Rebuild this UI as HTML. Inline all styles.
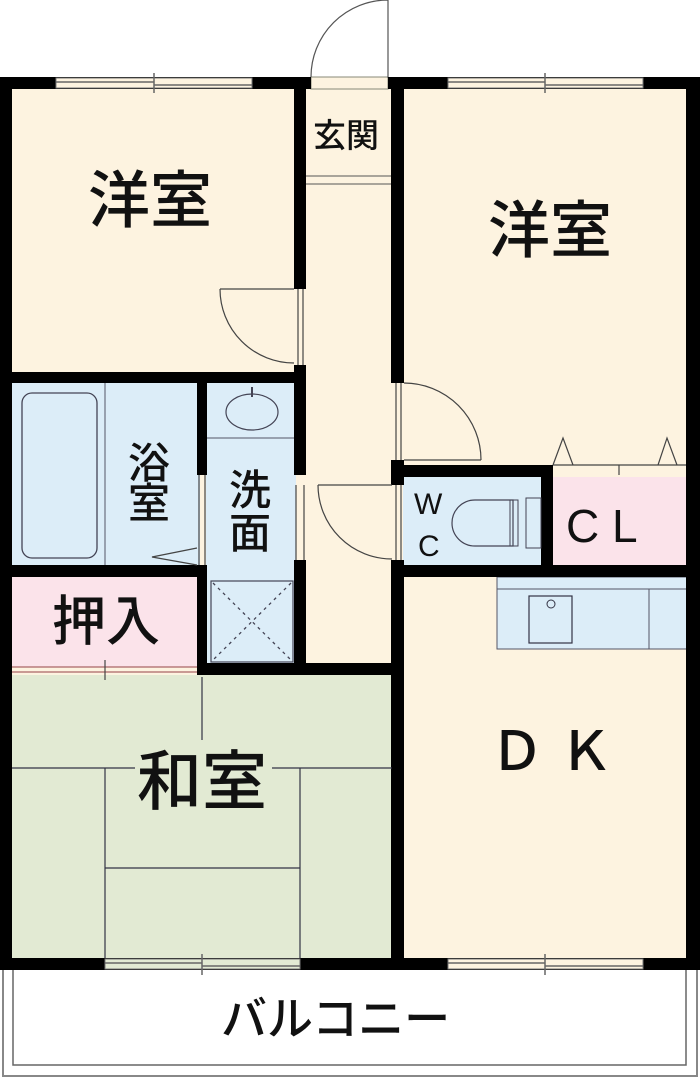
<!DOCTYPE html>
<html><head><meta charset="utf-8"><style>
html,body{margin:0;padding:0;background:#fff;}
svg{display:block;}
text{font-family:"Liberation Sans","Noto Sans CJK JP",sans-serif;fill:#111;font-weight:500;}
</style></head><body>
<svg width="700" height="1079" viewBox="0 0 700 1079" xmlns="http://www.w3.org/2000/svg">
<rect x="3" y="968" width="694" height="108" fill="#fff" stroke="#888" stroke-width="2"/>
<rect x="13" y="968" width="673" height="97" fill="#fff" stroke="#666" stroke-width="1.5"/>
<rect x="12" y="88" width="676" height="872" fill="#fdf3e0"/>
<rect x="12" y="383" width="188" height="184" fill="#dcedf8"/>
<rect x="206" y="383" width="90" height="282" fill="#dcedf8"/>
<rect x="12" y="577" width="188" height="90" fill="#fbe3ea"/>
<rect x="12" y="675" width="382" height="285" fill="#e2ead3"/>
<rect x="403" y="477" width="148" height="90" fill="#dcedf8"/>
<rect x="551" y="477" width="137" height="90" fill="#fbe3ea"/>
<rect x="497" y="577" width="191" height="72" fill="#dcedf8" stroke="#556" stroke-width="1"/>
<line x1="497" y1="589" x2="688" y2="589" stroke="#556" stroke-width="1"/>
<line x1="649" y1="589" x2="649" y2="649" stroke="#556" stroke-width="1"/>
<rect x="529" y="596" width="43" height="47" fill="none" stroke="#334" stroke-width="1.2"/>
<circle cx="551" cy="604" r="4" fill="none" stroke="#334" stroke-width="1"/>
<line x1="306" y1="176" x2="392" y2="176" stroke="#555" stroke-width="1"/>
<line x1="306" y1="184" x2="392" y2="184" stroke="#555" stroke-width="1"/>
<rect x="311" y="77" width="77" height="12" fill="#fdf3e0" stroke="#887" stroke-width="1"/>
<path d="M388 78 L388 0 A77 77 0 0 0 311 77" fill="none" stroke="#555" stroke-width="1.2"/>
<g fill="#000">
<rect x="0" y="77" width="311" height="12"/>
<rect x="388" y="77" width="312" height="12"/>
<rect x="0" y="77" width="12" height="893"/>
<rect x="686" y="77" width="14" height="893"/>
<rect x="0" y="958" width="700" height="12"/>
<rect x="294" y="77" width="12" height="212"/>
<rect x="294" y="365" width="12" height="110"/>
<rect x="294" y="560" width="12" height="110"/>
<rect x="391" y="77" width="13" height="306"/>
<rect x="391" y="460" width="13" height="25"/>
<rect x="391" y="560" width="13" height="410"/>
<rect x="0" y="372" width="306" height="11"/>
<rect x="197" y="383" width="10" height="92"/>
<rect x="0" y="565" width="207" height="12"/>
<rect x="197" y="565" width="10" height="110"/>
<rect x="197" y="663" width="207" height="12"/>
<rect x="391" y="465" width="162" height="12"/>
<rect x="541" y="465" width="12" height="112"/>
<rect x="391" y="565" width="309" height="12"/>
</g>
<g fill="#fdf3e0" stroke="#777" stroke-width="1">
<rect x="56" y="78" width="196" height="10"/>
<rect x="448" y="78" width="195" height="10"/>
<rect x="105" y="959" width="195" height="10" fill="#e2ead3"/>
<rect x="448" y="959" width="195" height="10"/>
</g>
<g stroke="#666" stroke-width="1.5">
<line x1="56" y1="82" x2="154" y2="82"/><line x1="154" y1="85" x2="252" y2="85"/><line x1="154" y1="73" x2="154" y2="93"/>
<line x1="448" y1="82" x2="545" y2="82"/><line x1="545" y1="85" x2="643" y2="85"/><line x1="545" y1="73" x2="545" y2="93"/>
<line x1="105" y1="963" x2="202" y2="963"/><line x1="202" y1="966" x2="300" y2="966"/><line x1="202" y1="954" x2="202" y2="975"/>
<line x1="448" y1="963" x2="545" y2="963"/><line x1="545" y1="966" x2="643" y2="966"/><line x1="545" y1="954" x2="545" y2="975"/>
</g>
<g fill="none" stroke="#444" stroke-width="1.2">
<line x1="220" y1="289" x2="294" y2="289"/><path d="M220 289 A74 74 0 0 0 294 363"/>
<line x1="298" y1="289" x2="298" y2="365"/><line x1="303" y1="289" x2="303" y2="365"/>
<line x1="404" y1="460" x2="481" y2="460"/><path d="M404 383 A77 77 0 0 1 481 460"/>
<line x1="396" y1="383" x2="396" y2="460"/><line x1="401" y1="383" x2="401" y2="460"/>
<line x1="318" y1="485" x2="392" y2="485"/><path d="M318 485 A74 74 0 0 0 392 559"/>
<line x1="296" y1="485" x2="296" y2="560"/><line x1="304" y1="485" x2="304" y2="560"/>
<line x1="396" y1="485" x2="396" y2="560"/><line x1="401" y1="485" x2="401" y2="560"/>
<line x1="199" y1="475" x2="199" y2="565"/><line x1="205" y1="475" x2="205" y2="565"/>
<path d="M197 548 L152 557 L197 565"/>
<path d="M553 465 L563 438 L573 465 M658 465 L667 438 L677 465"/>
<line x1="553" y1="465" x2="686" y2="465"/><line x1="619" y1="465" x2="619" y2="475"/>
<line x1="12" y1="667" x2="197" y2="667" stroke="#a66"/><line x1="12" y1="672" x2="197" y2="672" stroke="#a66"/>
<line x1="105" y1="660" x2="105" y2="680"/>
</g>
<rect x="22" y="393" width="75" height="165" rx="10" fill="none" stroke="#445" stroke-width="1.3"/>
<line x1="105" y1="383" x2="105" y2="565" stroke="#556" stroke-width="1"/>
<line x1="207" y1="438" x2="294" y2="438" stroke="#556" stroke-width="1"/>
<ellipse cx="252" cy="412" rx="26" ry="18" fill="none" stroke="#445" stroke-width="1.2"/>
<line x1="252" y1="387" x2="252" y2="397" stroke="#445" stroke-width="2"/>
<rect x="211" y="581" width="82" height="81" fill="none" stroke="#445" stroke-width="1.2"/>
<path d="M213 583 L291 660 M291 583 L213 660" stroke="#445" stroke-width="1.3" stroke-dasharray="3,4"/>
<path d="M513 500 L475 500 A18 18 0 0 0 475 546 L513 546 Z" fill="none" stroke="#445" stroke-width="1.2"/>
<rect x="510" y="500" width="8" height="46" fill="none" stroke="#445" stroke-width="1"/>
<rect x="526" y="498" width="15" height="50" fill="none" stroke="#445" stroke-width="1"/>
<g stroke="#334" stroke-width="1.2">
<line x1="202" y1="677" x2="202" y2="740"/>
<line x1="12" y1="768" x2="135" y2="768"/><line x1="272" y1="768" x2="392" y2="768"/>
<line x1="105" y1="768" x2="105" y2="958"/><line x1="300" y1="768" x2="300" y2="958"/>
<line x1="105" y1="868" x2="300" y2="868"/>
</g>
<text x="88" y="222" font-size="62">洋室</text>
<text x="488" y="252" font-size="62">洋室</text>
<text x="313" y="147" font-size="33">玄関</text>
<text x="128" y="478" font-size="42">浴</text>
<text x="128" y="518" font-size="42">室</text>
<text x="229" y="505" font-size="42">洗</text>
<text x="229" y="548" font-size="42">面</text>
<text x="52" y="640" font-size="54">押入</text>
<text x="137" y="804" font-size="65">和室</text>
<text x="490" y="770" font-size="54">Ｄ Ｋ</text>
<text x="414" y="514" font-size="30">W</text>
<text x="418" y="556" font-size="30">C</text>
<text x="566" y="542" font-size="46">C L</text>
<text x="221" y="1035" font-size="46">バルコニー</text>
</svg>
</body></html>
